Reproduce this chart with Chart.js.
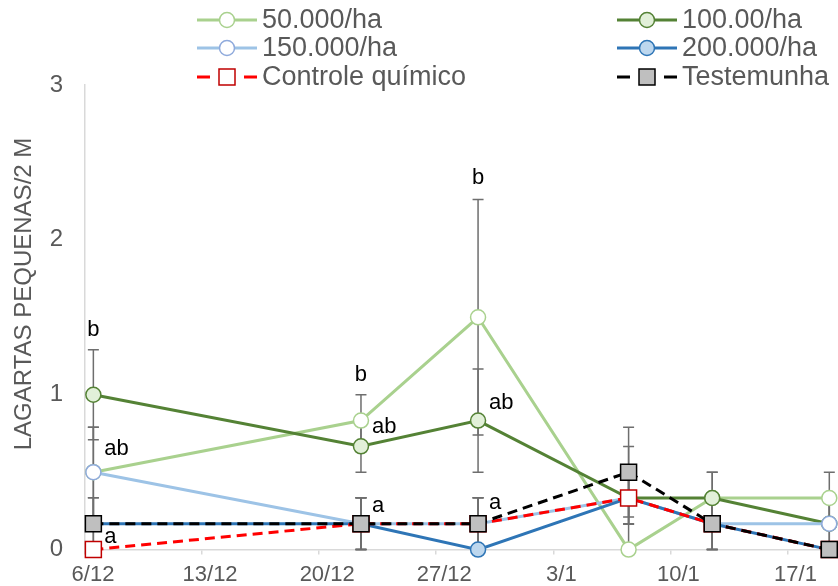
<!DOCTYPE html>
<html>
<head>
<meta charset="utf-8">
<script src="https://cdn.jsdelivr.net/npm/chart.js@4"></script>
<style>
  html, body { margin: 0; padding: 0; background: #fff; overflow: hidden; }
  #wrap { width: 838px; height: 586px; position: relative; }
</style>
</head>
<body>
<div id="wrap"><canvas id="myChart"></canvas></div>
<script>
// sampling days, counted from 6/12
const sampleDays = [0, 16, 23, 32, 37, 44];
const tickDays = [0, 7, 14, 21, 28, 35, 42];
const tickLabels = ["6/12", "13/12", "20/12", "27/12", "3/1", "10/1", "17/1"];

const seriesNames = ["50.000/ha", "100.00/ha", "150.000/ha", "200.000/ha", "Controle químico", "Testemunha"];

// means
const d50 = [0.5, 0.833, 1.5, 0, 0.333, 0.333];
const d100 = [1.0, 0.667, 0.833, 0.333, 0.333, 0.167];
const d150 = [0.5, 0.167, 0.167, 0.333, 0.167, 0.167];
const d200 = [0.167, 0.167, 0, 0.333, 0.167, 0];
const controle = [0, 0.167, 0.167, 0.333, 0.167, 0];
const testemunha = [0.167, 0.167, 0.167, 0.5, 0.167, 0];

// error bars (+/-)
const err50 = [0.29, 0.167, 0.76, 0, 0.167, 0.167];
const err100 = [0.29, 0.167, 0.333, 0.167, 0.167, 0.167];
const err150 = [0.29, 0.167, 0.167, 0.167, 0.167, 0.167];
const err200 = [0.167, 0.167, 0, 0.167, 0.167, 0];
const errControle = [0, 0.167, 0.167, 0.333, 0.167, 0];
const errTestemunha = [0.167, 0.167, 0.167, 0.29, 0.167, 0];

// letters of the mean test
const letterDays = [0, 0, 0, 16, 16, 16, 23, 23, 23];
const letterValues = [1.42, 0.65, 0.08, 1.13, 0.79, 0.28, 2.4, 0.95, 0.3];
const letterTexts = ["b", "ab", "a", "b", "ab", "a", "b", "ab", "a"];

const seriesValues = [d50, d100, d150, d200, controle, testemunha];
const seriesErrors = [err50, err100, err150, err200, errControle, errTestemunha];

const FONT = "'Liberation Sans', Arial, sans-serif";
const GREY = "#595959";

const styles = [
  { line: "#A9D18E", border: "#A9D18E", fill: "#FFFFFF", point: "circle", dash: [] },
  { line: "#548235", border: "#548235", fill: "#E2F0D9", point: "circle", dash: [] },
  { line: "#9DC3E6", border: "#8FAADC", fill: "#FFFFFF", point: "circle", dash: [] },
  { line: "#2E75B6", border: "#2E75B6", fill: "#BDD7EE", point: "circle", dash: [] },
  { line: "#FF0000", border: "#C00000", fill: "#FFFFFF", point: "rect", dash: [10, 6] },
  { line: "#000000", border: "#000000", fill: "#BFBFBF", point: "rect", dash: [10, 6] },
];
const letterAlign = ["center", "left", "left", "center", "left", "left", "center", "left", "left"];

function drawMarker(ctx, st, x, y) {
  ctx.save();
  ctx.setLineDash([]);
  ctx.fillStyle = st.fill;
  ctx.strokeStyle = st.border;
  ctx.lineWidth = 1.5;
  ctx.beginPath();
  if (st.point === "rect") {
    ctx.rect(x - 8, y - 8, 16, 16);
  } else {
    ctx.arc(x, y, 7.5, 0, Math.PI * 2);
  }
  ctx.fill();
  ctx.stroke();
  ctx.restore();
}

const errorBars = {
  id: "errorBars",
  beforeDatasetsDraw(chart) {
    const { ctx, scales: { x, y } } = chart;
    ctx.save();
    ctx.strokeStyle = "#6E6E6E";
    ctx.lineWidth = 1.5;
    seriesValues.forEach((vals, i) => {
      vals.forEach((v, j) => {
        const e = seriesErrors[i][j];
        if (!e) return;
        const px = x.getPixelForValue(sampleDays[j]);
        const top = y.getPixelForValue(v + e);
        const bot = y.getPixelForValue(Math.max(v - e, 0));
        ctx.beginPath();
        ctx.moveTo(px, top);
        ctx.lineTo(px, bot);
        ctx.moveTo(px - 5.5, top);
        ctx.lineTo(px + 5.5, top);
        ctx.moveTo(px - 5.5, bot);
        ctx.lineTo(px + 5.5, bot);
        ctx.stroke();
      });
    });
    ctx.restore();
  },
  afterDatasetsDraw(chart) {
    const { ctx, scales: { x, y } } = chart;
    ctx.save();
    ctx.fillStyle = "#000000";
    ctx.font = "22px " + FONT;
    ctx.textBaseline = "middle";
    letterTexts.forEach((t, k) => {
      const px = x.getPixelForValue(letterDays[k]);
      const py = y.getPixelForValue(letterValues[k]);
      if (letterAlign[k] === "center") {
        ctx.textAlign = "center";
        ctx.fillText(t, px, py);
      } else {
        ctx.textAlign = "left";
        ctx.fillText(t, px + 11, py);
      }
    });
    ctx.restore();
  },
};

// legend in two columns, like the original
const legendBox = {
  id: "legendBox",
  afterDraw(chart) {
    const ctx = chart.ctx;
    const colX = [197, 617];
    const rowY = [20, 48, 77];
    ctx.save();
    ctx.font = "27px " + FONT;
    ctx.fillStyle = GREY;
    ctx.textBaseline = "middle";
    ctx.textAlign = "left";
    seriesNames.forEach((name, i) => {
      const st = styles[i];
      const x0 = colX[i % 2];
      const yy = rowY[Math.floor(i / 2)];
      ctx.strokeStyle = st.line;
      ctx.lineWidth = 3;
      ctx.beginPath();
      if (st.dash.length) {
        ctx.moveTo(x0, yy); ctx.lineTo(x0 + 13, yy);
        ctx.moveTo(x0 + 47, yy); ctx.lineTo(x0 + 60, yy);
      } else {
        ctx.moveTo(x0, yy); ctx.lineTo(x0 + 60, yy);
      }
      ctx.stroke();
      drawMarker(ctx, st, x0 + 30, yy);
      ctx.fillStyle = GREY;
      ctx.fillText(name, x0 + 65, yy + 1);
    });
    ctx.restore();
  },
};

const ctx = document.getElementById("myChart").getContext("2d");
const chart = new Chart(ctx, {
  type: "line",
  data: {
    datasets: seriesValues.map((vals, i) => ({
      label: seriesNames[i],
      data: vals.map((v, j) => ({ x: sampleDays[j], y: v })),
      borderColor: styles[i].line,
      backgroundColor: styles[i].fill,
      borderWidth: 3,
      borderDash: styles[i].dash,
      pointStyle: styles[i].point,
      pointRadius: styles[i].point === "rect" ? 11.3 : 7.5,
      pointBackgroundColor: styles[i].fill,
      pointBorderColor: styles[i].border,
      pointBorderWidth: 1.5,
      tension: 0,
      clip: false,
      order: seriesNames.length - i,
    })),
  },
  options: {
    responsive: true,
    maintainAspectRatio: false,
    animation: false,
    layout: { autoPadding: false, padding: { top: 85, left: 4, right: 0, bottom: 0 } },
    plugins: {
      legend: { display: false },
      tooltip: { enabled: false },
    },
    scales: {
      x: {
        type: "linear",
        min: -0.5,
        max: 44.52,
        afterBuildTicks: function (scale) {
          scale.ticks = tickDays.map((d) => ({ value: d - 0.5 }));
        },
        afterFit: function (scale) {
          scale.height = 36;
        },
        ticks: {
          callback: function (value, index) {
            return tickLabels[index];
          },
          autoSkip: false,
          maxRotation: 0,
          minRotation: 0,
          labelOffset: 8,
          padding: 9,
          color: GREY,
          font: { size: 22, family: FONT, lineHeight: 1 },
        },
        grid: { display: true, drawOnChartArea: false, drawTicks: true, tickLength: 5, color: "#D9D9D9", lineWidth: 1.5 },
        border: { display: true, color: "#D9D9D9", width: 1.5 },
      },
      y: {
        min: 0,
        max: 3,
        afterFit: function (scale) {
          scale.width = 81;
        },
        ticks: {
          stepSize: 1,
          padding: 22,
          color: GREY,
          font: { size: 24, family: FONT },
        },
        grid: { display: false, drawTicks: false },
        border: { display: true, color: "#D9D9D9", width: 1.5 },
        title: {
          display: true,
          text: "       LAGARTAS PEQUENAS/2 M",
          color: GREY,
          font: { size: 24, family: FONT },
          padding: { top: 6, bottom: 11 },
        },
      },
    },
  },
  plugins: [errorBars, legendBox],
});
</script>
</body>
</html>
